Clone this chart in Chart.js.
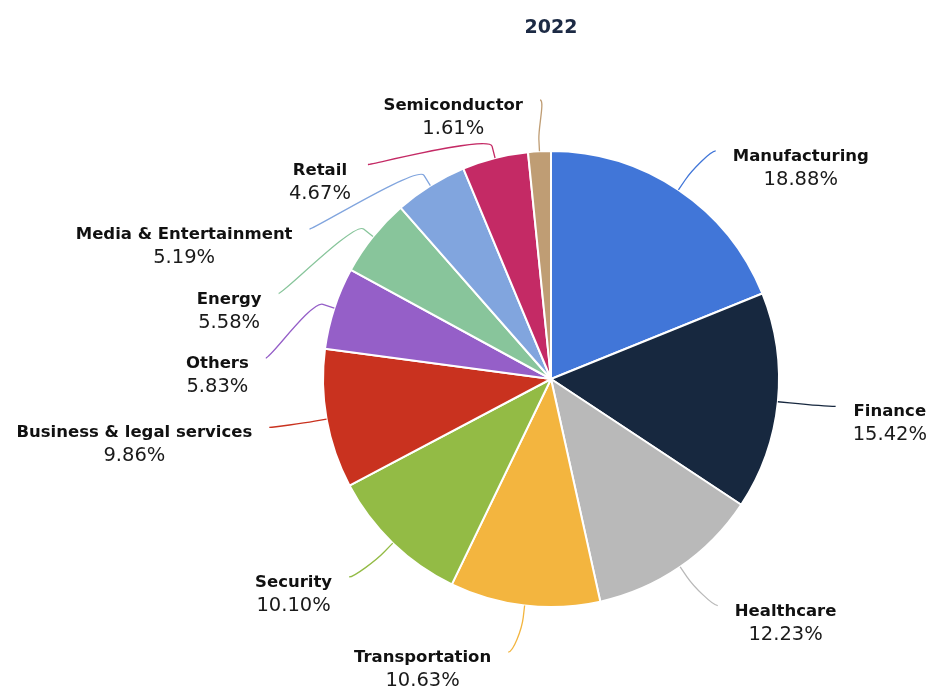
<!DOCTYPE html>
<html>
<head>
<meta charset="utf-8">
<title>2022</title>
<script src="https://cdn.jsdelivr.net/npm/chart.js@4.4.1/dist/chart.umd.min.js"></script>
<style>
  html, body { margin: 0; padding: 0; background: #ffffff; }
  #contenedor { width: 933px; height: 694px; }
</style>
</head>
<body>
<div id="contenedor"><canvas id="graficaSectores"></canvas></div>
<script>
// Datos del gráfico (porcentaje por sector)
const titulo = '2022';
const sectores = [
  'Manufacturing', 'Finance', 'Healthcare', 'Transportation', 'Security',
  'Business & legal services', 'Others', 'Energy', 'Media & Entertainment',
  'Retail', 'Semiconductor'
];
const porcentajes = [18.88, 15.42, 12.23, 10.63, 10.10, 9.86, 5.83, 5.58, 5.19, 4.67, 1.61];
const colores = [
  '#4176d8', '#17283f', '#b9b9b9', '#f3b53f', '#93bb45',
  '#c9321f', '#955fc8', '#88c59b', '#81a5de', '#c42a65', '#bf9d74'
];

const FUENTE = '"DejaVu Sans", Verdana, sans-serif';
const DIST_ETIQUETA = 47;   // distancia de la etiqueta fuera del borde
const RELLENO_X = 11;
const QUIEBRE = 12;          // tramo radial del conector
const SEPARACION = 64.5;     // alto mínimo entre etiquetas de un mismo lado

// Reparte las etiquetas de un lado para que no se pisen
function repartir(lista, minY, maxY) {
  const colocar = g => {
    const n = g.items.length;
    const media = g.items.reduce((s, e) => s + e.yNat, 0) / n;
    let inicio = media - (n - 1) * SEPARACION / 2;
    inicio = Math.max(minY, Math.min(inicio, maxY - (n - 1) * SEPARACION));
    g.inicio = inicio;
  };
  const grupos = lista.map(e => ({ items: [e] }));
  grupos.forEach(colocar);
  let cambio = true;
  while (cambio) {
    cambio = false;
    for (let k = 0; k < grupos.length - 1; k++) {
      const a = grupos[k], b = grupos[k + 1];
      if (a.inicio + a.items.length * SEPARACION > b.inicio) {
        a.items = a.items.concat(b.items);
        grupos.splice(k + 1, 1);
        colocar(a);
        cambio = true;
        break;
      }
    }
  }
  grupos.forEach(g => g.items.forEach((e, j) => { e.yLab = g.inicio + j * SEPARACION; }));
}

const etiquetasPlugin = {
  id: 'etiquetasSectores',
  afterDraw(chart) {
    const ctx = chart.ctx;
    const area = chart.chartArea;
    const arcos = chart.getDatasetMeta(0).data;

    ctx.save();
    // Título
    ctx.font = 'bold 19px ' + FUENTE;
    ctx.fillStyle = '#1c2a44';
    ctx.textAlign = 'center';
    ctx.textBaseline = 'alphabetic';
    ctx.fillText(titulo, (area.left + area.right) / 2, 33);

    const items = arcos.map((arco, i) => {
      const p = arco.getProps(['x', 'y', 'startAngle', 'endAngle', 'outerRadius'], true);
      const ang = (p.startAngle + p.endAngle) / 2;
      const R = p.outerRadius + DIST_ETIQUETA;
      return {
        i, ang, cx: p.x, cy: p.y, r: p.outerRadius, R,
        izq: Math.cos(ang) < 0,
        yNat: p.y + Math.sin(ang) * R
      };
    });

    const minY = area.top - 50;
    const maxY = chart.height - 35;
    [true, false].forEach(lado => {
      const lista = items.filter(e => e.izq === lado).sort((a, b) => a.yNat - b.yNat);
      repartir(lista, minY, maxY);
    });

    items.forEach(e => {
      const dy = Math.max(-e.R, Math.min(e.R, e.yLab - e.cy));
      const dx = Math.sqrt(e.R * e.R - dy * dy) + RELLENO_X;
      const x = e.cx + (e.izq ? -dx : dx);
      const y = e.yLab;

      // Conector suave: etiqueta -> quiebre -> borde del sector
      const tx = e.cx + Math.cos(e.ang) * e.r;
      const ty = e.cy + Math.sin(e.ang) * e.r;
      const bx = e.cx + Math.cos(e.ang) * (e.r + QUIEBRE);
      const by = e.cy + Math.sin(e.ang) * (e.r + QUIEBRE);
      ctx.beginPath();
      ctx.moveTo(x, y);
      ctx.bezierCurveTo(x + (e.izq ? 5 : -5), y, 2 * bx - tx, 2 * by - ty, bx, by);
      ctx.lineTo(tx, ty);
      ctx.strokeStyle = colores[e.i];
      ctx.lineWidth = 1.3;
      ctx.stroke();

      // Texto: nombre en negrita y porcentaje debajo
      const nombre = sectores[e.i];
      const valor = porcentajes[e.i].toFixed(2) + '%';
      ctx.font = 'bold 16.5px ' + FUENTE;
      const w1 = ctx.measureText(nombre).width;
      ctx.font = '19.5px ' + FUENTE;
      const w2 = ctx.measureText(valor).width;
      const ancho = Math.max(w1, w2);
      const izquierda = e.izq ? x - 17 - ancho : x + 17;
      const centro = izquierda + ancho / 2;

      ctx.textAlign = 'center';
      ctx.fillStyle = '#111111';
      ctx.font = 'bold 16.5px ' + FUENTE;
      ctx.fillText(nombre, centro, y + 10);
      ctx.fillStyle = '#1a1a1a';
      ctx.font = '19.5px ' + FUENTE;
      ctx.fillText(valor, centro, y + 34);
    });
    ctx.restore();
  }
};

function crearGrafica() {
  const canvas = document.getElementById('graficaSectores');
  new Chart(canvas, {
    type: 'pie',
    data: {
      labels: sectores,
      datasets: [{
        data: porcentajes,
        backgroundColor: colores,
        borderColor: '#ffffff',
        borderWidth: 2,
        hoverOffset: 0,
        offset: 0
      }]
    },
    options: {
      responsive: true,
      maintainAspectRatio: false,
      animation: false,
      events: [],
      layout: {
        padding: { top: 150, bottom: 86, left: 322, right: 153 }
      },
      plugins: {
        legend: { display: false },
        title: { display: false },
        tooltip: { enabled: false }
      }
    },
    plugins: [etiquetasPlugin]
  });
}

window.addEventListener('DOMContentLoaded', crearGrafica);
</script>
</body>
</html>
